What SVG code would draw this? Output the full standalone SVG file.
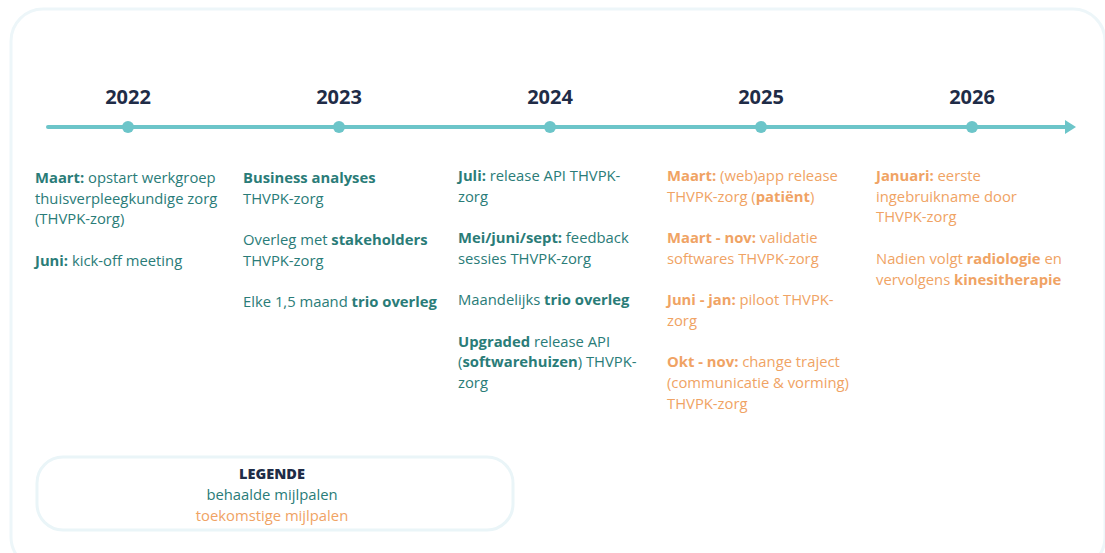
<svg xmlns="http://www.w3.org/2000/svg" width="1105" height="553" viewBox="0 0 1105 553">
  <defs>
    <marker id="arrow" markerWidth="12" markerHeight="16" refX="2" refY="8" orient="auto" markerUnits="userSpaceOnUse">
      <path d="M0,1 L11,8 L0,15 Z" fill="#6cc5c9"/>
    </marker>
  </defs>
  <style>
    text { font-family: "Open Sans", "Noto Sans", "Liberation Sans", sans-serif; }
    .year { font-size: 20px; font-weight: 700; fill: #1f2c47; text-anchor: middle; }
    .done { font-size: 14.8px; fill: #2a7c78; }
    .todo { font-size: 14.8px; fill: #f0a364; }
    .b { font-weight: 700; }
    .dot { fill: #6cc5c9; }
    .frame { fill: none; stroke: #edf6f9; stroke-width: 3; }
  </style>

  <rect width="1105" height="553" fill="#ffffff"/>
  <rect class="frame" x="11" y="9" width="1094" height="560" rx="32"/>

  <!-- timeline axis -->
  <g id="connectors">
    <line x1="48" y1="127" x2="1067" y2="127" stroke="#6cc5c9" stroke-width="4" stroke-linecap="round" marker-end="url(#arrow)"/>
  </g>

  <g id="y2022">
    <circle class="dot" cx="128" cy="127" r="6"/>
    <text class="year" x="128" y="104">2022</text>
    <text class="done" x="35" y="183">
      <tspan class="b">Maart:</tspan> opstart werkgroep
      <tspan x="35" dy="20.7">thuisverpleegkundige zorg</tspan>
      <tspan x="35" dy="20.7">(THVPK-zorg)</tspan>
      <tspan x="35" dy="41.4" class="b">Juni:</tspan> kick-off meeting
    </text>
  </g>

  <g id="y2023">
    <circle class="dot" cx="339" cy="127" r="6"/>
    <text class="year" x="339" y="104">2023</text>
    <text class="done" x="243" y="183">
      <tspan class="b">Business analyses</tspan>
      <tspan x="243" dy="20.7">THVPK-zorg</tspan>
      <tspan x="243" dy="41.4">Overleg met </tspan><tspan class="b">stakeholders</tspan>
      <tspan x="243" dy="20.7">THVPK-zorg</tspan>
      <tspan x="243" dy="41.4">Elke 1,5 maand </tspan><tspan class="b">trio overleg</tspan>
    </text>
  </g>

  <g id="y2024">
    <circle class="dot" cx="550" cy="127" r="6"/>
    <text class="year" x="550" y="104">2024</text>
    <text class="done" x="458" y="181">
      <tspan class="b">Juli:</tspan> release API THVPK-
      <tspan x="458" dy="20.7">zorg</tspan>
      <tspan x="458" dy="41.4" class="b">Mei/juni/sept:</tspan> feedback
      <tspan x="458" dy="20.7">sessies THVPK-zorg</tspan>
      <tspan x="458" dy="41.4">Maandelijks </tspan><tspan class="b">trio overleg</tspan>
      <tspan x="458" dy="41.4" class="b">Upgraded</tspan> release API
      <tspan x="458" dy="20.7">(</tspan><tspan class="b">softwarehuizen</tspan>) THVPK-
      <tspan x="458" dy="20.7">zorg</tspan>
    </text>
  </g>

  <g id="y2025">
    <circle class="dot" cx="761" cy="127" r="6"/>
    <text class="year" x="761" y="104">2025</text>
    <text class="todo" x="667" y="181">
      <tspan class="b">Maart:</tspan> (web)app release
      <tspan x="667" dy="20.7">THVPK-zorg (</tspan><tspan class="b">patiënt</tspan>)
      <tspan x="667" dy="41.4" class="b">Maart - nov:</tspan> validatie
      <tspan x="667" dy="20.7">softwares THVPK-zorg</tspan>
      <tspan x="667" dy="41.4" class="b">Juni - jan:</tspan> piloot THVPK-
      <tspan x="667" dy="20.7">zorg</tspan>
      <tspan x="667" dy="41.4" class="b">Okt - nov:</tspan> change traject
      <tspan x="667" dy="20.7">(communicatie &amp; vorming)</tspan>
      <tspan x="667" dy="20.7">THVPK-zorg</tspan>
    </text>
  </g>

  <g id="y2026">
    <circle class="dot" cx="972" cy="127" r="6"/>
    <text class="year" x="972" y="104">2026</text>
    <text class="todo" x="876" y="181">
      <tspan class="b">Januari:</tspan> eerste
      <tspan x="876" dy="20.7">ingebruikname door</tspan>
      <tspan x="876" dy="20.7">THVPK-zorg</tspan>
      <tspan x="876" dy="41.4">Nadien volgt </tspan><tspan class="b">radiologie</tspan> en
      <tspan x="876" dy="20.7">vervolgens </tspan><tspan class="b">kinesitherapie</tspan>
    </text>
  </g>

  <g id="legend">
    <rect x="37" y="457" width="476" height="73" rx="26" fill="#ffffff" stroke="#eaf5f8" stroke-width="3"/>
    <text x="272" y="479" text-anchor="middle" font-size="14.5" font-weight="800" fill="#1f2c47">LEGENDE</text>
    <text x="272" y="500" text-anchor="middle" class="done">behaalde mijlpalen</text>
    <text x="272" y="521" text-anchor="middle" class="todo">toekomstige mijlpalen</text>
  </g>
</svg>
